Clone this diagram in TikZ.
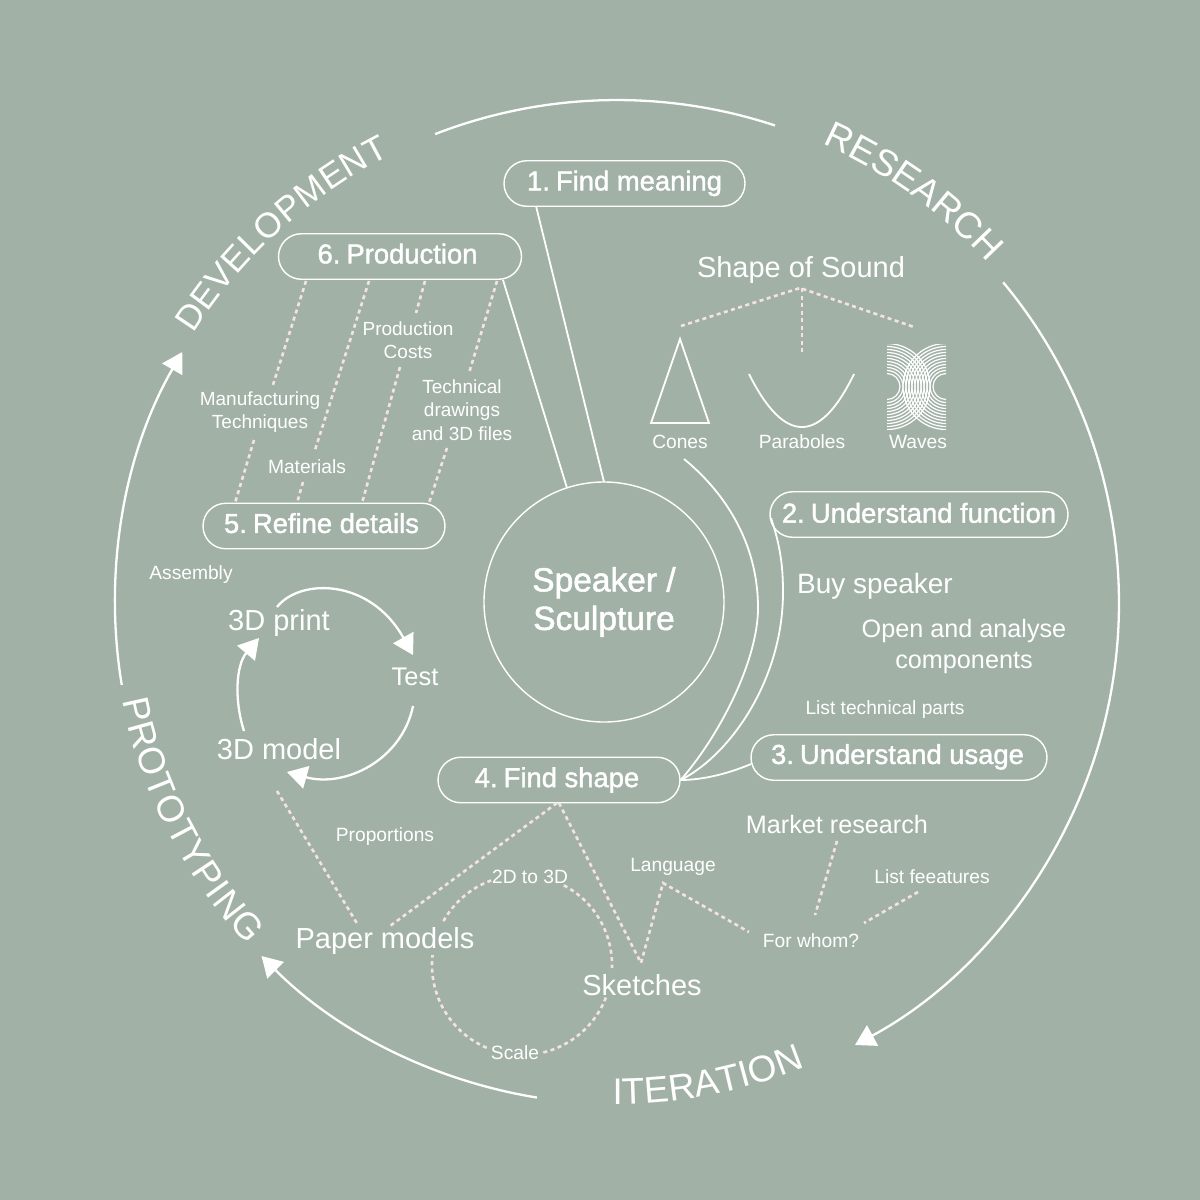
\documentclass[tikz,border=0pt]{standalone}
\usepackage{fontspec}
\setmainfont{Liberation Sans}
\newfontfamily\medf[FakeBold=1.5]{Liberation Sans}
\usetikzlibrary{arrows.meta,calc,shapes.misc,decorations.text}
\definecolor{bgc}{HTML}{A2B1A6}
\definecolor{pinkd}{HTML}{F5E3E4}
\newcommand\fsz[1]{\fontsize{#1}{#1}\selectfont}
\newcommand\nm[1]{#1\kern-1.5pt\ }
\tikzset{
  pill/.style={draw=white,line width=1.4pt,rounded rectangle,inner sep=0pt,minimum height=45.5pt,text=white,font=\medf\fsz{27.4}},
  lab/.style={text=white,inner sep=0pt,align=center},
  bigl/.style={lab,font=\fsz{29},text height=21pt,text depth=0pt},
  smalll/.style={lab,font=\fsz{19.2},text height=14pt,text depth=0pt},
  wire/.style={draw=white,line width=1.8pt},
  ring/.style={draw=white,line width=2.3pt},
  dashl/.style={draw=pinkd,line width=2.6pt,dash pattern=on 4pt off 3.5pt},
  headl/.style={-{Triangle[length=20pt,width=23pt]},fill=none},
  bigarc/.style 2 args={decorate,decoration={text along path,text align={fit to path},text={|\fsz{#1}\color{white}|#2}}},
}
\begin{document}
\begin{tikzpicture}[x=1pt,y=-1pt]
\fill[bgc] (0,0) rectangle (1200,1200);
\useasboundingbox (0,0) rectangle (1200,1200);
\coordinate (C) at (617,603);
% outer ring
\draw[ring] (C) ++(-111.2:503) arc[start angle=-111.2,end angle=-71.7,radius=503];
\draw[ring,headl] (C) ++(-39.7:502) arc[start angle=-39.7,end angle=61.7,radius=502];
\draw[ring,headl] (C) ++(99.2:501) arc[start angle=99.2,end angle=135.2,radius=501];
\draw[ring,headl] (C) ++(170.6:502) arc[start angle=170.6,end angle=210,radius=502];
% curved titles
\path[bigarc={37}{RESEARCH}] (C) ++(-65.9:503) arc[start angle=-65.9,end angle=-43.8,radius=503];
\path[bigarc={35}{DEVELOPMENT}] (C) ++(-147.6:502) arc[start angle=-147.6,end angle=-116.9,radius=502];
\path[bigarc={37}{PROTOTYPING}] (C) ++(168.9:504) arc[start angle=168.9,end angle=137.2,radius=504];
\path[bigarc={37}{ITERATION}] (C) ++(90.5:501) arc[start angle=90.5,end angle=68.8,radius=501];
% main nodes
\node[draw=white,line width=1.4pt,circle,minimum size=240pt,inner sep=0pt,text=white,align=center,font=\medf\fsz{33.5}] (c) at (604,602) {Speaker /\\[5pt]Sculpture};
\node[pill,minimum width=241pt] (one) at (624.5,183.5) {\raisebox{6pt}{\nm{1.}Find meaning}};
\node[pill,minimum width=243pt] (six) at (400,256.5) {\raisebox{6pt}{\nm{6.}Production\kern5pt}};
\node[pill,minimum width=242pt] (five) at (324,526) {\raisebox{6pt}{\nm{5.}Refine details\kern5pt}};
\node[pill,minimum width=298pt] (two) at (919,514.5) {\raisebox{3.5pt}{\nm{2.}Understand function}};
\node[pill,minimum width=296pt] (three) at (899,757.5) {\raisebox{7pt}{\nm{3.}Understand usage\kern3pt}};
\node[pill,minimum width=242pt] (four) at (559,780) {\raisebox{5pt}{\nm{4.}Find shape\kern4pt}};
% labels
\node[bigl] (sound) at (801,267) {Shape of Sound};
\node[smalll] (cones) at (680,441) {Cones};
\node[smalll] (para) at (802,441) {Paraboles};
\node[smalll] (waves) at (918,441) {Waves};
\node[bigl,font=\fsz{28}] (buy) at (875,583) {Buy speaker};
\node[lab,font=\fsz{25.2}] (open) at (964,646.5) {Open and analyse\\[5.8pt]components};
\node[smalll] (parts) at (885,707) {List technical parts};
\node[bigl,font=\fsz{25.2}] (market) at (837,823) {Market research};
\node[smalll] (feat) at (932,876) {List feeatures};
\node[smalll] (whom) at (811,940) {For whom?};
\node[smalll] (lang) at (673,864) {Language};
\node[smalll] (twod) at (530,876) {2D to 3D};
\node[bigl] (sketch) at (642,985) {Sketches};
\node[bigl] (paper) at (385,938) {Paper models};
\node[smalll] (scale) at (515,1052) {Scale};
\node[smalll] (prop) at (385,834) {Proportions};
\node[bigl] (model) at (279,749) {3D model};
\node[bigl] (print) at (279,620) {3D print};
\node[bigl,font=\fsz{25.5}] (test) at (415,675) {Test};
\node[smalll] (assy) at (191,572) {Assembly};
\node[lab,font=\fsz{19}] (manuf) at (260,412) {Manufacturing\\[4.5pt]Techniques};
\node[smalll] (mat) at (307,466) {Materials};
\node[lab,font=\fsz{19}] (cost) at (408,340) {Production\\[4.5pt]Costs};
\node[lab,font=\fsz{19}] (tech) at (462,410) {Technical\\[4.5pt]drawings\\[4.5pt]and 3D files};
% solid connectors
\draw[wire] ($(one)+(-88.5,22.5)$) -- ($(c)+(0,-120)$);
\draw[wire] ($(six)+(103,23.5)$) -- ($(c)+(-37,-114)$);
\draw[wire] ($(cones)+(4,18)$) .. controls (722,490) and (758,540) .. (758,608) .. controls (758,660) and (720,735) .. (four.east);
\draw[wire] ($(two)+(-148,3.5)$) .. controls (780,545) and (783,565) .. (783,592) .. controls (783,680) and (730,755) .. (four.east);
\draw[wire] ($(three)+(-148,6.5)$) .. controls (725,775) and (700,780) .. (four.east);
% shape of sound
\coordinate (ap) at (800,288);
\coordinate (apl) at (681,326);
\coordinate (apr) at (914,327);
\coordinate (apm) at (802,352);
\draw[dashl] (apl) -- (ap) -- (apr);
\draw[dashl] (802,288) -- (apm);
\draw[draw=white,line width=1.8pt,line join=miter] (680,339) -- (709,423) -- (651,423) -- cycle;
\draw[draw=white,line width=1.8pt] (749,374) .. controls (784.3,444.7) and (819.7,444.7) .. (854,374);
\begin{scope}
\clip (887,344) rectangle (946,429);
\foreach \r in {13,16,...,44}{
  \draw[white,line width=1.2pt] (887,386.5) ++(-90:\r) arc[start angle=-90,end angle=90,radius=\r];
  \draw[white,line width=1.2pt] (946,386.5) ++(90:\r) arc[start angle=90,end angle=270,radius=\r];
}
\end{scope}
% production dashes
\draw[dashl] ($(six)+(-94,24.5)$) -- ($(manuf)+(12,-24)$);
\draw[dashl] ($(manuf)+(-6,28)$) -- ($(five)+(-89,-23)$);
\draw[dashl] ($(six)+(-31,24.5)$) -- ($(mat)+(8,-16)$);
\draw[dashl] ($(mat)+(-4,16)$) -- ($(five)+(-27,-23)$);
\draw[dashl] ($(six)+(25,24.5)$) -- ($(cost)+(8,-27)$);
\draw[dashl] ($(cost)+(-8,27)$) -- ($(five)+(38,-23)$);
\draw[dashl] ($(six)+(97,24.5)$) -- ($(tech)+(7,-37)$);
\draw[dashl] ($(tech)+(-15,38)$) -- ($(five)+(105,-23)$);
% lower dashes
\draw[dashl] ($(four)+(-2,23)$) -- ($(paper)+(5,-12)$);
\draw[dashl] ($(four)+(0,23)$) -- ($(sketch)+(-1,-22)$) -- (663,883) -- ($(whom)+(-62,-8)$);
\draw[dashl] ($(model)+(-2,42)$) -- ($(paper)+(-27,-13)$);
\draw[dashl] ($(market)+(0,18)$) -- ($(whom)+(4,-25)$);
\draw[dashl] ($(feat)+(-14,16)$) -- ($(whom)+(53,-17)$);
\coordinate (S) at (522,965);
\draw[dashl] (S) ++(-150.8:90) arc[start angle=-150.8,end angle=-109.9,radius=90];
\draw[dashl] (S) ++(-62.3:90) arc[start angle=-62.3,end angle=1.9,radius=90];
\draw[dashl] (S) ++(21.2:90) arc[start angle=21.2,end angle=76.4,radius=90];
\draw[dashl] (S) ++(113.1:90) arc[start angle=113.1,end angle=186.3,radius=90];
% loop
\draw[ring,headl] ($(print)+(-2,-13)$) .. controls (300,578) and (370,578) .. ($(test)+(-2,-20)$);
\draw[ring,headl] ($(test)+(-2,31)$) .. controls (402,760) and (345,788) .. ($(model)+(8,23)$);
\draw[ring,headl] ($(model)+(-35,-18)$) .. controls (234,700) and (236,665) .. ($(print)+(-20,18)$);
\end{tikzpicture}
\end{document}
